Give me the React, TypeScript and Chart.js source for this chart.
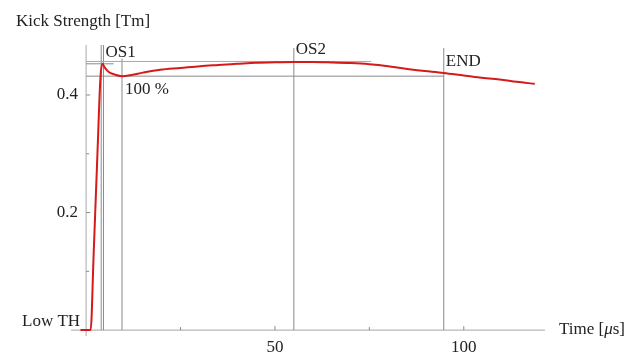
import React, { useEffect, useRef } from "react";
import { Chart, registerables } from "chart.js";

Chart.register(...registerables);

const timeUs = [-1.5, 1.2, 2.0, 3.0, 3.8, 4.3, 5.0, 6.0, 7.5, 9.5, 12, 15, 19.6, 25, 30.2, 35, 40, 45, 50, 55, 60, 65, 70, 75, 80, 83.3, 88.4, 94.7, 100, 104.2, 109.5, 114, 118.8];
const kickTm = [0, 0, 0.13, 0.3, 0.43, 0.453, 0.446, 0.439, 0.435, 0.432, 0.434, 0.438, 0.443, 0.446, 0.449, 0.451, 0.453, 0.455, 0.4555, 0.456, 0.456, 0.4553, 0.4542, 0.4522, 0.4488, 0.4458, 0.4415, 0.4375, 0.433, 0.4296, 0.4265, 0.4225, 0.419];

const xMajorTicks = [50, 100];
const xMinorTicks = [25, 75];
const yMajorTicks = [0.2, 0.4];
const yMinorTicks = [0.1, 0.3];
const yZeroLabel = "Low TH";

const os1Times = [4.0, 4.6];
const hundredTime = 9.5;
const os2Time = 55;
const endTime = 94.7;
const os1Level = 0.453;
const os2Level = 0.457;
const hundredLevel = 0.432;

const FONT = '"Liberation Serif", "DejaVu Serif", serif';

export default function App() {
  const ref = useRef<HTMLCanvasElement | null>(null);
  useEffect(() => {
    if (!ref.current) return;
    const overlay = {
      id: "overlay",
      beforeDatasetsDraw(chart: any) {
        const ctx = chart.ctx;
        const xs = chart.scales.x;
        const ys = chart.scales.y;
        const px = (v: number) => xs.getPixelForValue(v);
        const py = (v: number) => ys.getPixelForValue(v);
        ctx.save();
        // axes
        ctx.strokeStyle = "#b8b8b8";
        ctx.lineWidth = 1.2;
        ctx.beginPath();
        ctx.moveTo(px(-4), py(0));
        ctx.lineTo(px(121.5), py(0));
        ctx.moveTo(px(0), py(-0.01));
        ctx.lineTo(px(0), py(0.485));
        ctx.stroke();
        // ticks
        ctx.strokeStyle = "#888";
        ctx.lineWidth = 1;
        ctx.beginPath();
        xMajorTicks.forEach((t) => { ctx.moveTo(px(t), py(0)); ctx.lineTo(px(t), py(0) - 4); });
        xMinorTicks.forEach((t) => { ctx.moveTo(px(t), py(0)); ctx.lineTo(px(t), py(0) - 3); });
        yMajorTicks.forEach((v) => { ctx.moveTo(px(0), py(v)); ctx.lineTo(px(0) + 4, py(v)); });
        yMinorTicks.forEach((v) => { ctx.moveTo(px(0), py(v)); ctx.lineTo(px(0) + 3, py(v)); });
        ctx.stroke();
        // marker lines
        ctx.strokeStyle = "#8a8a8a";
        ctx.lineWidth = 1;
        ctx.beginPath();
        os1Times.forEach((t) => { ctx.moveTo(px(t), py(0)); ctx.lineTo(px(t), py(0.485)); });
        ctx.moveTo(px(hundredTime), py(0)); ctx.lineTo(px(hundredTime), py(0.462));
        ctx.moveTo(px(os2Time), py(0)); ctx.lineTo(px(os2Time), py(0.48));
        ctx.moveTo(px(endTime), py(0)); ctx.lineTo(px(endTime), py(0.48));
        // level lines
        ctx.moveTo(px(0), py(os1Level)); ctx.lineTo(px(7.3), py(os1Level));
        ctx.moveTo(px(0), py(hundredLevel)); ctx.lineTo(px(endTime), py(hundredLevel));
        ctx.stroke();
        ctx.strokeStyle = "#a8a8a8";
        ctx.beginPath();
        ctx.moveTo(px(0), py(os2Level)); ctx.lineTo(px(75.5), py(os2Level));
        ctx.stroke();

        // texts
        ctx.fillStyle = "#222";
        ctx.font = `17px ${FONT}`;
        ctx.textBaseline = "middle";
        ctx.textAlign = "left";
        ctx.fillText("Kick Strength [Tm]", 16, 22);
        ctx.fillText("OS1", px(os1Times[1]) + 2, 53);
        ctx.fillText("100 %", px(hundredTime) + 3, 90);
        ctx.fillText("OS2", px(os2Time) + 2, 50);
        ctx.fillText("END", px(endTime) + 2, 62);
        ctx.textAlign = "right";
        ctx.fillText(yZeroLabel, px(0) - 6, py(0) - 9);
        yMajorTicks.forEach((v) => ctx.fillText(v.toFixed(1), px(0) - 8, py(v)));
        ctx.textAlign = "center";
        xMajorTicks.forEach((t) => ctx.fillText(String(t), px(t), py(0) + 17));
        // axis label
        ctx.textAlign = "left";
        let x = px(121.5) + 14;
        const yy = py(0) - 1;
        ctx.fillText("Time [", x, yy);
        x += ctx.measureText("Time [").width;
        ctx.font = `italic 17px ${FONT}`;
        ctx.fillText("\u03bc", x, yy);
        x += ctx.measureText("\u03bc").width;
        ctx.font = `17px ${FONT}`;
        ctx.fillText("s]", x, yy);
        ctx.restore();
      },
    };
    const chart = new Chart(ref.current, {
      type: "scatter",
      data: {
        datasets: [
          {
            data: timeUs.map((t, i) => ({ x: t, y: kickTm[i] })),
            showLine: true,
            borderColor: "#d41a1a",
            borderWidth: 2,
            pointRadius: 0,
            cubicInterpolationMode: "monotone",
          } as any,
        ],
      },
      options: {
        responsive: false,
        animation: false,
        devicePixelRatio: 1,
        layout: { padding: { left: 71, right: 96, top: 45, bottom: 19 } },
        plugins: { legend: { display: false }, tooltip: { enabled: false } },
        scales: {
          x: { type: "linear", min: -4, max: 121.5, display: false },
          y: { type: "linear", min: -0.01, max: 0.485, display: false },
        },
      },
      plugins: [overlay],
    });
    return () => chart.destroy();
  }, []);
  return (
    <div style={{ position: "absolute", left: 0, top: 0, width: 641, height: 355, background: "#fff" }}>
      <canvas ref={ref} width={641} height={355} />
    </div>
  );
}
